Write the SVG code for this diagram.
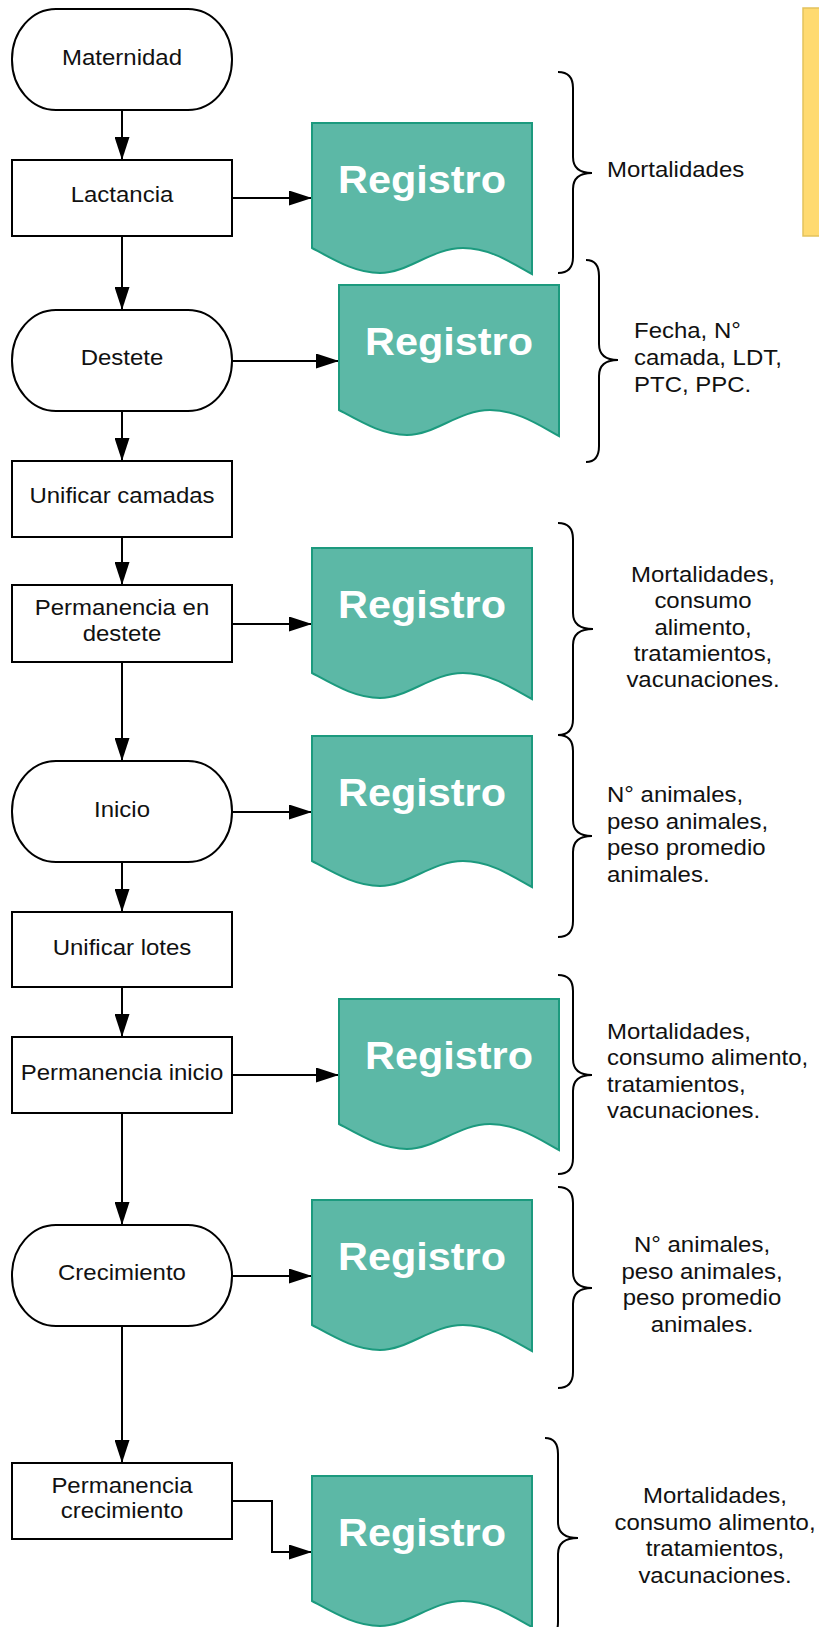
<svg xmlns="http://www.w3.org/2000/svg" width="819" height="1627" viewBox="0 0 819 1627">
  <style>
    .box { fill: #ffffff; stroke: #000000; stroke-width: 2; }
    .doc { fill: #5cb8a6; stroke: #1c9a7e; stroke-width: 2; }
    .lbl { font-family: "Liberation Sans", Arial, sans-serif; font-size: 22px; fill: #111111; }
    .mid { text-anchor: middle; }
    .reg { font-family: "Liberation Sans", Arial, sans-serif; font-size: 38px; font-weight: bold; fill: #ffffff; text-anchor: middle; }
    .edge { fill: none; stroke: #000000; stroke-width: 2; marker-end: url(#arrow); }
    .brace { fill: none; stroke: #000000; stroke-width: 2; }
    .note { fill: #ffda70; stroke: #e3c25c; stroke-width: 1.5; }
  </style>
  <defs>
    <marker id="arrow" markerUnits="userSpaceOnUse" markerWidth="23" markerHeight="15" refX="23" refY="7.5" orient="auto">
      <path d="M0,0 L23,7.5 L0,15 Z" fill="#000000"/>
    </marker>
    <!-- document shape with wavy bottom, 220 wide -->
    <path id="doc" class="doc" d="M0,0 H220 V151 C200,140 178,125 151,125 C120,125 96,150 68,150 C44,150 24,138 0,125 Z"/>
  </defs>

  <rect x="0" y="0" width="819" height="1627" fill="#ffffff"/>

  <!-- sticky note at the top right edge -->
  <rect class="note" x="803" y="8" width="30" height="228"/>

  <!-- connectors -->
  <g id="connectors">
    <line class="edge" x1="122" y1="110" x2="122" y2="160"/>
    <line class="edge" x1="122" y1="236" x2="122" y2="310"/>
    <line class="edge" x1="122" y1="411" x2="122" y2="461"/>
    <line class="edge" x1="122" y1="537" x2="122" y2="585"/>
    <line class="edge" x1="122" y1="662" x2="122" y2="761"/>
    <line class="edge" x1="122" y1="862" x2="122" y2="912"/>
    <line class="edge" x1="122" y1="987" x2="122" y2="1037"/>
    <line class="edge" x1="122" y1="1113" x2="122" y2="1225"/>
    <line class="edge" x1="122" y1="1326" x2="122" y2="1463"/>

    <line class="edge" x1="232" y1="198" x2="312" y2="198"/>
    <line class="edge" x1="232" y1="361" x2="339" y2="361"/>
    <line class="edge" x1="232" y1="624" x2="312" y2="624"/>
    <line class="edge" x1="232" y1="812" x2="312" y2="812"/>
    <line class="edge" x1="232" y1="1075" x2="339" y2="1075"/>
    <line class="edge" x1="232" y1="1276" x2="312" y2="1276"/>
    <polyline class="edge" points="232,1501 272,1501 272,1552 312,1552"/>
  </g>

  <!-- process steps -->
  <g id="maternidad">
    <rect class="box" x="12" y="9" width="220" height="101" rx="44" ry="50"/>
    <text class="lbl mid" transform="translate(122,65) scale(1.09,1)">Maternidad</text>
  </g>
  <g id="lactancia">
    <rect class="box" x="12" y="160" width="220" height="76"/>
    <text class="lbl mid" transform="translate(122,202) scale(1.09,1)">Lactancia</text>
  </g>
  <g id="destete">
    <rect class="box" x="12" y="310" width="220" height="101" rx="44" ry="50"/>
    <text class="lbl mid" transform="translate(122,365) scale(1.09,1)">Destete</text>
  </g>
  <g id="unificar-camadas">
    <rect class="box" x="12" y="461" width="220" height="76"/>
    <text class="lbl mid" transform="translate(122,503) scale(1.09,1)">Unificar camadas</text>
  </g>
  <g id="permanencia-destete">
    <rect class="box" x="12" y="585" width="220" height="77"/>
    <text class="lbl mid" transform="translate(122,615) scale(1.09,1)"><tspan x="0" y="0">Permanencia en</tspan><tspan x="0" y="26">destete</tspan></text>
  </g>
  <g id="inicio">
    <rect class="box" x="12" y="761" width="220" height="101" rx="44" ry="50"/>
    <text class="lbl mid" transform="translate(122,817) scale(1.09,1)">Inicio</text>
  </g>
  <g id="unificar-lotes">
    <rect class="box" x="12" y="912" width="220" height="75"/>
    <text class="lbl mid" transform="translate(122,955) scale(1.09,1)">Unificar lotes</text>
  </g>
  <g id="permanencia-inicio">
    <rect class="box" x="12" y="1037" width="220" height="76"/>
    <text class="lbl mid" transform="translate(122,1080) scale(1.09,1)">Permanencia inicio</text>
  </g>
  <g id="crecimiento">
    <rect class="box" x="12" y="1225" width="220" height="101" rx="44" ry="50"/>
    <text class="lbl mid" transform="translate(122,1280) scale(1.09,1)">Crecimiento</text>
  </g>
  <g id="permanencia-crecimiento">
    <rect class="box" x="12" y="1463" width="220" height="76"/>
    <text class="lbl mid" transform="translate(122,1493) scale(1.09,1)"><tspan x="0" y="0">Permanencia</tspan><tspan x="0" y="25">crecimiento</tspan></text>
  </g>

  <!-- record documents -->
  <g id="registro-1">
    <use href="#doc" x="312" y="123"/>
    <text class="reg" transform="translate(422,193) scale(1.09,1)">Registro</text>
  </g>
  <g id="registro-2">
    <use href="#doc" x="339" y="285"/>
    <text class="reg" transform="translate(449,355) scale(1.09,1)">Registro</text>
  </g>
  <g id="registro-3">
    <use href="#doc" x="312" y="548"/>
    <text class="reg" transform="translate(422,618) scale(1.09,1)">Registro</text>
  </g>
  <g id="registro-4">
    <use href="#doc" x="312" y="736"/>
    <text class="reg" transform="translate(422,806) scale(1.09,1)">Registro</text>
  </g>
  <g id="registro-5">
    <use href="#doc" x="339" y="999"/>
    <text class="reg" transform="translate(449,1069) scale(1.09,1)">Registro</text>
  </g>
  <g id="registro-6">
    <use href="#doc" x="312" y="1200"/>
    <text class="reg" transform="translate(422,1270) scale(1.09,1)">Registro</text>
  </g>
  <g id="registro-7">
    <use href="#doc" x="312" y="1476"/>
    <text class="reg" transform="translate(422,1546) scale(1.09,1)">Registro</text>
  </g>

  <!-- curly braces with the recorded data -->
  <g id="datos-1">
    <path class="brace" d="M558,72 Q573,72 573,88 V157 Q573,173 592,173 Q573,173 573,189 V257 Q573,273 558,273"/>
    <text class="lbl" transform="translate(607,177) scale(1.09,1)">Mortalidades</text>
  </g>
  <g id="datos-2">
    <path class="brace" d="M586,260 Q599,260 599,276 V344 Q599,360 618,360 Q599,360 599,376 V446 Q599,462 586,462"/>
    <text class="lbl" transform="translate(634,338) scale(1.09,1)"><tspan x="0" y="0">Fecha, N°</tspan><tspan x="0" y="27">camada, LDT,</tspan><tspan x="0" y="54">PTC, PPC.</tspan></text>
  </g>
  <g id="datos-3">
    <path class="brace" d="M558,523 Q573,523 573,539 V613 Q573,629 593,629 Q573,629 573,645 V719 Q573,735 558,735"/>
    <text class="lbl mid" transform="translate(703,582) scale(1.09,1)"><tspan x="0" y="0">Mortalidades,</tspan><tspan x="0" y="26.3">consumo</tspan><tspan x="0" y="52.6">alimento,</tspan><tspan x="0" y="78.9">tratamientos,</tspan><tspan x="0" y="105.2">vacunaciones.</tspan></text>
  </g>
  <g id="datos-4">
    <path class="brace" d="M558,735 Q573,735 573,751 V820 Q573,836 592,836 Q573,836 573,852 V921 Q573,937 558,937"/>
    <text class="lbl" transform="translate(607,802) scale(1.09,1)"><tspan x="0" y="0">N° animales,</tspan><tspan x="0" y="26.7">peso animales,</tspan><tspan x="0" y="53.4">peso promedio</tspan><tspan x="0" y="80">animales.</tspan></text>
  </g>
  <g id="datos-5">
    <path class="brace" d="M558,975 Q573,975 573,991 V1059 Q573,1075 592,1075 Q573,1075 573,1091 V1158 Q573,1174 558,1174"/>
    <text class="lbl" transform="translate(607,1039) scale(1.09,1)"><tspan x="0" y="0">Mortalidades,</tspan><tspan x="0" y="26.5">consumo alimento,</tspan><tspan x="0" y="53">tratamientos,</tspan><tspan x="0" y="79.5">vacunaciones.</tspan></text>
  </g>
  <g id="datos-6">
    <path class="brace" d="M558,1187 Q573,1187 573,1203 V1272 Q573,1288 592,1288 Q573,1288 573,1304 V1372 Q573,1388 558,1388"/>
    <text class="lbl mid" transform="translate(702,1252) scale(1.09,1)"><tspan x="0" y="0">N° animales,</tspan><tspan x="0" y="26.7">peso animales,</tspan><tspan x="0" y="53.4">peso promedio</tspan><tspan x="0" y="80">animales.</tspan></text>
  </g>
  <g id="datos-7">
    <path class="brace" d="M545,1438 Q558,1438 558,1454 V1522 Q558,1538 578,1538 Q558,1538 558,1554 V1622 Q558,1638 545,1638"/>
    <text class="lbl mid" transform="translate(715,1503) scale(1.09,1)"><tspan x="0" y="0">Mortalidades,</tspan><tspan x="0" y="26.7">consumo alimento,</tspan><tspan x="0" y="53.4">tratamientos,</tspan><tspan x="0" y="80">vacunaciones.</tspan></text>
  </g>
</svg>
